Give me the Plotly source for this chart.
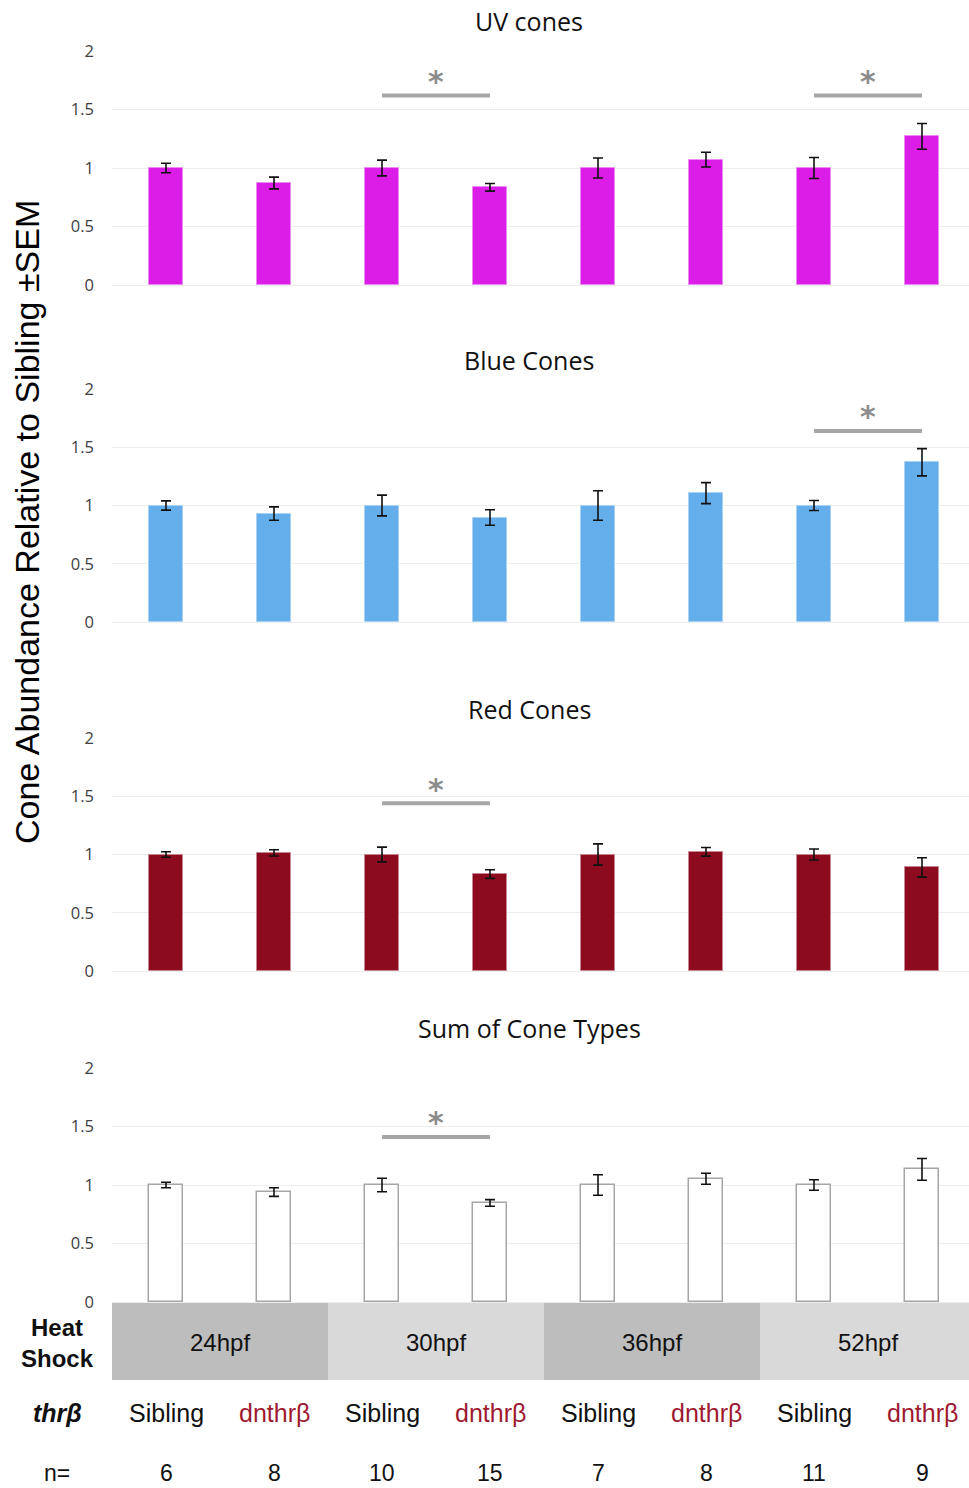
import plotly.graph_objects as go

# ---- data -------------------------------------------------------------
groups = ["Sibling", "dnthrβ", "Sibling", "dnthrβ", "Sibling", "dnthrβ", "Sibling", "dnthrβ"]
heat_shock = ["24hpf", "30hpf", "36hpf", "52hpf"]
n_values = ["6", "8", "10", "15", "7", "8", "11", "9"]

panel_titles = ["UV cones", "Blue Cones", "Red Cones", "Sum of Cone Types"]

uv_mean = [1.00, 0.872, 1.00, 0.835, 1.00, 1.071, 1.00, 1.27]
uv_sem = [0.040, 0.050, 0.067, 0.033, 0.085, 0.063, 0.090, 0.110]

blue_mean = [1.00, 0.931, 1.00, 0.897, 1.00, 1.106, 1.00, 1.371]
blue_sem = [0.040, 0.057, 0.089, 0.066, 0.127, 0.090, 0.043, 0.117]

red_mean = [1.00, 1.014, 1.00, 0.832, 1.00, 1.023, 1.00, 0.889]
red_sem = [0.023, 0.027, 0.063, 0.037, 0.091, 0.037, 0.047, 0.083]

sum_mean = [1.00, 0.940, 1.00, 0.847, 1.00, 1.054, 1.00, 1.133]
sum_sem = [0.023, 0.037, 0.058, 0.028, 0.088, 0.047, 0.045, 0.093]

# significance brackets: (panel index, left bar, right bar, line height)
significance = [(0, 2, 3, 1.62), (0, 6, 7, 1.62), (1, 6, 7, 1.64), (2, 2, 3, 1.44), (3, 2, 3, 1.41)]

# ---- styling ------------------------------------------------------------
W, H = 969, 1488
PLOT_LEFT = 112
PLOT_W = W - PLOT_LEFT
bar_fill = ["#DC1DE8", "#63AEEB", "#8C0B1E", "#FFFFFF"]
bar_line = ["#E98BF0", "#A9D1F4", "#C88592", "#A6A6A6"]
# pixel rows of each panel: (top of y=2, bottom y=0)
panel_px = [(51, 285), (389, 622), (738, 971), (1068, 1302)]
title_px = [21, 360, 709, 1028]
TICK_FONT = dict(family="Open Sans, Lato, sans-serif", size=16.5, color="#404040")
TITLE_FONT = dict(family="Open Sans, Lato, sans-serif", size=25, color="#111111")
ARIAL = "Liberation Sans, Arial, sans-serif"

x_pos = list(range(len(groups)))
means = [uv_mean, blue_mean, red_mean, sum_mean]
sems = [uv_sem, blue_sem, red_sem, sum_sem]


def px_x(pix):
    # horizontal pixel -> paper coordinate (paper spans the plot area)
    return (pix - PLOT_LEFT) / PLOT_W


def px_y(pix):
    return 1 - pix / H


fig = go.Figure()
layout = dict(
    width=W, height=H,
    margin=dict(l=PLOT_LEFT, r=0, t=0, b=0, autoexpand=False),
    plot_bgcolor="white", paper_bgcolor="white",
    showlegend=False, bargap=0,
)

x_range = [-0.5, 7.5 - (PLOT_LEFT + 8 * 108 - W) / 108]

for i in range(4):
    sfx = "" if i == 0 else str(i + 1)
    fig.add_trace(go.Bar(
        x=x_pos, y=means[i], width=0.315,
        xaxis="x" + sfx, yaxis="y" + sfx,
        marker=dict(color=bar_fill[i], line=dict(color=bar_line[i], width=1.5 if i == 3 else 1)),
        error_y=dict(type="data", array=sems[i], color="#111111", thickness=1.6, width=5),
        hoverinfo="skip",
    ))
    top, bot = panel_px[i]
    layout["xaxis" + sfx] = dict(
        domain=[0, 1], range=x_range, anchor="y" + sfx,
        showticklabels=False, showgrid=False, zeroline=False, showline=False, ticks="",
    )
    layout["yaxis" + sfx] = dict(
        domain=[px_y(bot), px_y(top)], range=[0, 2], anchor="x" + sfx,
        tickvals=[0, 0.5, 1, 1.5, 2], ticktext=["0", "0.5", "1", "1.5", "2"],
        tickfont=TICK_FONT, ticklabelstandoff=17,
        showgrid=True, gridcolor="#EDEDED", gridwidth=1.2,
        zeroline=True, zerolinecolor="#EDEDED", zerolinewidth=1.2,
        showline=False, ticks="",
    )

fig.update_layout(**layout)

annotations = []
shapes = []

# panel titles
for i, t in enumerate(panel_titles):
    annotations.append(dict(
        text=t, x=px_x(529), y=px_y(title_px[i]), xref="paper", yref="paper",
        showarrow=False, font=TITLE_FONT, xanchor="center", yanchor="middle",
    ))

# significance lines and asterisks
for p, a, b, h in significance:
    sfx = "" if p == 0 else str(p + 1)
    shapes.append(dict(
        type="line", xref="x" + sfx, yref="y" + sfx, x0=a, x1=b, y0=h, y1=h,
        line=dict(color="#A6A6A6", width=4),
    ))
    annotations.append(dict(
        text="<b>*</b>", x=(a + b) / 2, y=h + 0.12, xref="x" + sfx, yref="y" + sfx,
        showarrow=False, xanchor="center", yanchor="middle",
        font=dict(family="DejaVu Sans, sans-serif", size=30, color="#8C8C8C"),
    ))

# heat-shock bands beneath the bottom panel
band_colors = ["#BDBDBD", "#D9D9D9", "#BDBDBD", "#D9D9D9"]
for k, label in enumerate(heat_shock):
    shapes.append(dict(
        type="rect", xref="x4", yref="paper",
        x0=2 * k - 0.5, x1=2 * k + 1.5, y0=px_y(1380), y1=px_y(1303),
        fillcolor=band_colors[k], line=dict(width=0), layer="below",
    ))
    annotations.append(dict(
        text=label, x=2 * k + 0.5, y=px_y(1342), xref="x4", yref="paper",
        showarrow=False, xanchor="center", yanchor="middle",
        font=dict(family=ARIAL, size=24, color="#111111"),
    ))

annotations.append(dict(
    text="<b>Heat<br>Shock</b>", x=px_x(57), y=px_y(1343), xref="paper", yref="paper",
    showarrow=False, xanchor="center", yanchor="middle", align="center",
    font=dict(family=ARIAL, size=24, color="#111111"),
))
annotations.append(dict(
    text="<b><i>thrβ</i></b>", x=px_x(57), y=px_y(1413), xref="paper", yref="paper",
    showarrow=False, xanchor="center", yanchor="middle",
    font=dict(family=ARIAL, size=25, color="#111111"),
))

# sample-size row, kept just inside the bottom edge
N_ROW_Y = px_y(1473)
annotations.append(dict(
    text="n=", x=px_x(57), y=N_ROW_Y, xref="paper", yref="paper",
    showarrow=False, xanchor="center", yanchor="middle", borderpad=0,
    font=dict(family=ARIAL, size=23, color="#111111"),
))

for j, g in enumerate(groups):
    annotations.append(dict(
        text=g, x=j, y=px_y(1413), xref="x4", yref="paper",
        showarrow=False, xanchor="center", yanchor="middle",
        font=dict(family=ARIAL, size=25, color="#111111" if g == "Sibling" else "#9E1B32"),
    ))
    annotations.append(dict(
        text=n_values[j], x=j, y=N_ROW_Y, xref="x4", yref="paper",
        showarrow=False, xanchor="center", yanchor="middle", borderpad=0,
        font=dict(family=ARIAL, size=23, color="#111111"),
    ))

# shared y-axis title
annotations.append(dict(
    text="Cone Abundance Relative to Sibling ±SEM", x=px_x(27), y=px_y(522),
    xref="paper", yref="paper", showarrow=False, textangle=-90,
    xanchor="center", yanchor="middle",
    font=dict(family=ARIAL, size=34, color="#000000"),
))

fig.update_layout(annotations=annotations, shapes=shapes)
fig.write_html("out.html")
